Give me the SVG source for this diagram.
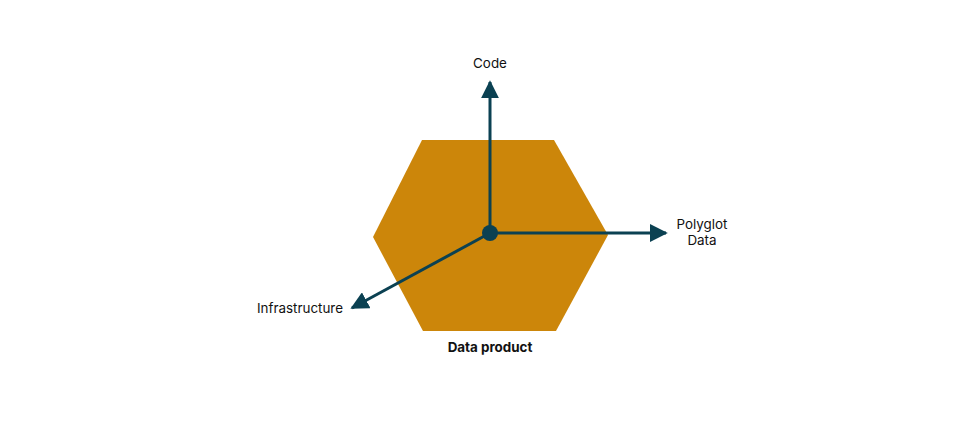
<svg xmlns="http://www.w3.org/2000/svg" width="960" height="427" viewBox="0 0 960 427">
<style>
.lbl{font-family:Inter,"Liberation Sans",sans-serif;font-size:13.4px;fill:#111}
.b{font-weight:700}
.ax{stroke:#0b4152;stroke-width:3;fill:none}
</style>
<defs>
<marker id="ah" viewBox="0 0 10 10" refX="9" refY="5" markerWidth="6" markerHeight="6" markerUnits="strokeWidth" orient="auto">
<path d="M0,0 L10,5 L0,10 Z" fill="#0b4152"/>
</marker>
</defs>
<rect width="960" height="427" fill="#fff"/>
<g id="hexagon">
<polygon points="422,140 554,140 608,235 556,331 423,331 373,237" fill="#cc860a"/>
<text class="lbl b" x="490" y="352" text-anchor="middle">Data product</text>
</g>
<g id="connectors">
<line class="ax" x1="490" y1="233" x2="490" y2="82" marker-end="url(#ah)"/>
<line class="ax" x1="490" y1="233" x2="666" y2="233" marker-end="url(#ah)"/>
<line class="ax" x1="490" y1="233" x2="352" y2="308" marker-end="url(#ah)"/>
</g>
<g id="center"><circle cx="490" cy="233" r="8" fill="#0b4152"/></g>
<g id="code"><text class="lbl" x="490" y="68" text-anchor="middle">Code</text></g>
<g id="polyglot"><text class="lbl" x="702" y="229" text-anchor="middle">Polyglot</text><text class="lbl" x="702" y="245" text-anchor="middle">Data</text></g>
<g id="infra"><text class="lbl" x="343" y="313" text-anchor="end">Infrastructure</text></g>
</svg>
